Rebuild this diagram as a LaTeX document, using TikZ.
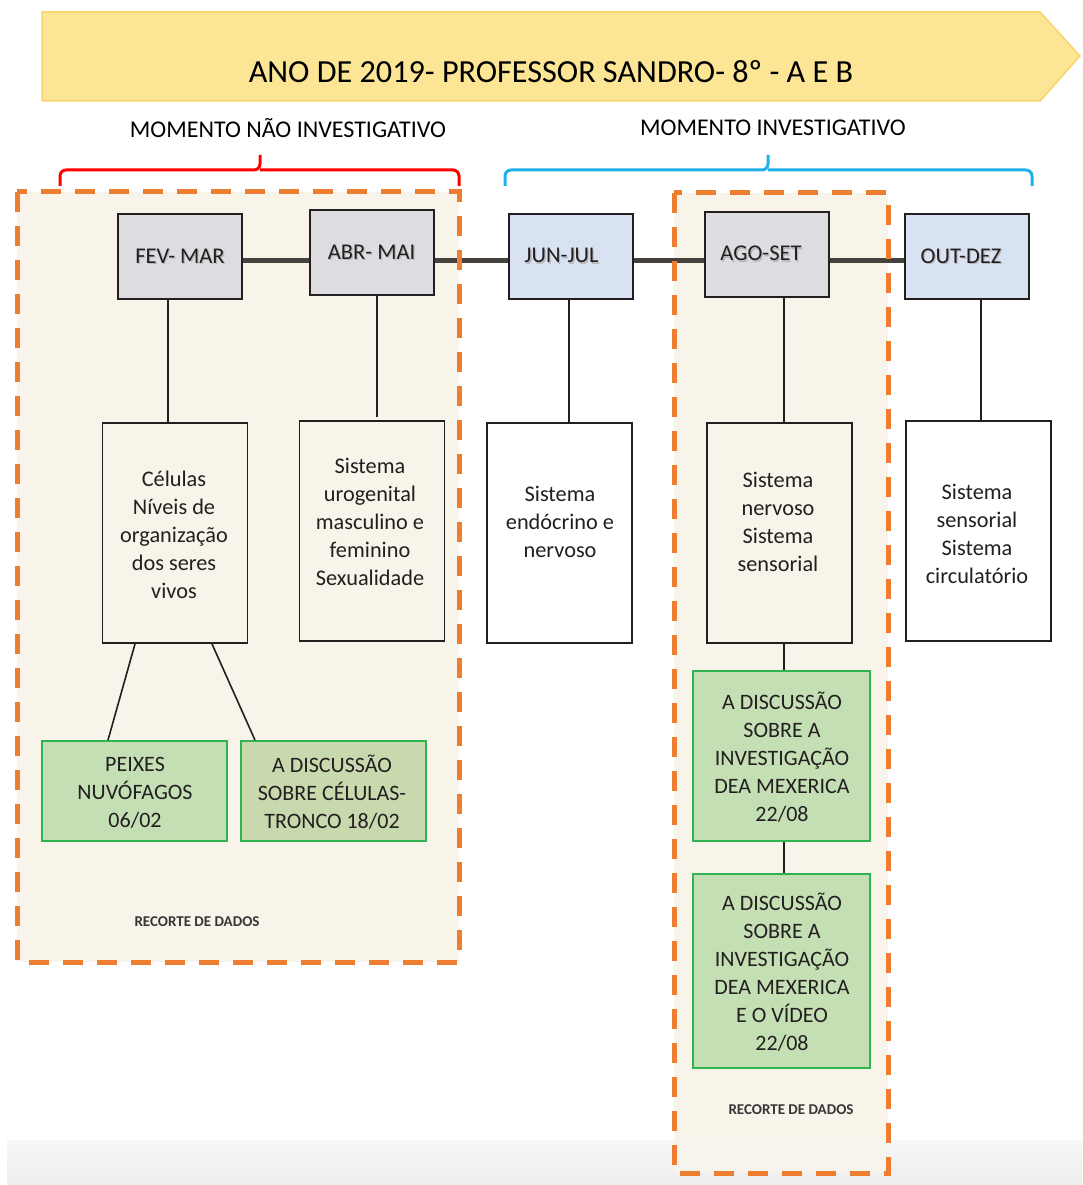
\documentclass[tikz,border=0pt]{standalone}
\usepackage{fontspec}
\setmainfont{Carlito}
\usetikzlibrary{calc,backgrounds}

\definecolor{titlefill}{HTML}{FCE595}
\definecolor{titleedge}{HTML}{F7D46B}
\definecolor{cream}{HTML}{F8F4EA}
\definecolor{dashorange}{HTML}{ED7D31}
\definecolor{monthgray}{HTML}{DCDCE1}
\definecolor{monthblue}{HTML}{D9E2F3}
\definecolor{greenfill}{HTML}{C5DFB4}
\definecolor{olivefill}{HTML}{C9D9AE}
\definecolor{greenedge}{HTML}{2DB34F}
\definecolor{ink}{HTML}{231F20}
\definecolor{timelinegray}{HTML}{45413F}
\definecolor{bracered}{HTML}{FF0000}
\definecolor{braceblue}{HTML}{1FB0EA}

\newcommand\mshadow[1]{\makebox[0pt][l]{\kern1.3pt\raisebox{-1.3pt}{\textcolor{black!28}{#1}}}#1}

\tikzset{
  monthbox/.style={draw=ink, line width=2pt, minimum width=124pt, minimum height=85pt,
    inner sep=0pt, font=\fontsize{22.5}{26}\selectfont, text=ink},
  contentbox/.style={draw=ink, line width=1.8pt, minimum width=145pt, minimum height=220pt, inner sep=0pt},
  boxtext/.style={align=center, font=\fontsize{22.3}{28}\selectfont, text=ink, inner sep=0pt},
  greentext/.style={align=center, font=\fontsize{22}{28}\selectfont, text=ink, inner sep=0pt},
  greenbox/.style={draw=greenedge, line width=1.8pt, fill=greenfill, inner sep=0pt},
  link/.style={draw=ink, line width=1.6pt},
  timeline/.style={draw=timelinegray, line width=5pt},
  datazone/.style={draw=dashorange, line width=5pt, dash pattern=on 20pt off 14pt},
  brace/.style={line width=3pt, rounded corners=6pt},
  period/.style={font=\fontsize{24}{30}\selectfont, inner sep=0pt},
  cutnote/.style={font=\bfseries\fontsize{15}{18}\selectfont, text=ink!90, inner sep=0pt}
}

\begin{document}
\begin{tikzpicture}[x=1pt, y=-1pt]
\useasboundingbox (0,0) rectangle (1082,1185);

% heading arrow
\filldraw[fill=titlefill, draw=titleedge, line width=1.5pt]
  (42,12) -- (1040,12) -- (1080,56) -- (1040,101) -- (42,101) -- cycle;
\node[font=\fontsize{32.2}{36}\selectfont, inner sep=0pt] (title) at (551,72)
  {ANO DE 2019- PROFESSOR SANDRO- 8º - A E B};

% the two phases
\node[period] (nonInv) at (288,128) {MOMENTO NÃO INVESTIGATIVO};
\node[period] (inv) at (773,128) {MOMENTO INVESTIGATIVO};
\draw[brace, bracered] (60,186) -- (60,170) -- (260,170) -- (260,155);
\draw[brace, bracered] (459,186) -- (459,170) -- (260,170);
\draw[brace, braceblue] (505,186) -- (505,170) -- (768,170) -- (768,155);
\draw[brace, braceblue] (1032,186) -- (1032,170) -- (768,170);

% periods of the year
\node[monthbox, fill=monthgray] (fev) at (180,256.5) {\mshadow{FEV- MAR}};
\node[monthbox, fill=monthgray] (abr) at (371.5,252.5) {\mshadow{ABR- MAI}};
\node[monthbox, fill=monthblue] (jun) at (570.5,256.5) {\hspace*{-18pt}\mshadow{JUN-JUL}};
\node[monthbox, fill=monthgray] (ago) at (767,254.5) {\hspace*{-12pt}\raisebox{2pt}{\mshadow{AGO-SET}}};
\node[monthbox, fill=monthblue] (oud) at (967,256.5) {\hspace*{-12pt}\mshadow{OUT-DEZ}};

% contents of each period
\node[contentbox, fill=cream] (c1) at (175,533) {};
\node[boxtext] (c1t) at (174,535) {Células\\Níveis de\\organização\\dos seres\\vivos};
\node[contentbox, fill=cream] (c2) at (372,531) {};
\node[boxtext] (c2t) at (370,522) {Sistema\\urogenital\\masculino e\\feminino\\Sexualidade};
\node[contentbox, fill=white] (c3) at (559.5,533) {};
\node[boxtext] (c3t) at (560,522) {Sistema\\endócrino e\\nervoso};
\node[contentbox, fill=cream] (c4) at (779.5,533) {};
\node[boxtext] (c4t) at (778,522) {Sistema\\nervoso\\Sistema\\sensorial};
\node[contentbox, fill=white] (c5) at (978.5,531) {};
\node[boxtext] (c5t) at (977,534) {Sistema\\sensorial\\Sistema\\circulatório};

% recorded classroom episodes
\node[greenbox, minimum width=185pt, minimum height=100pt] (g1) at (134.5,791) {};
\node[greentext] (g1t) at (135,793) {PEIXES\\NUVÓFAGOS\\06/02};
\node[greenbox, fill=olivefill, minimum width=185pt, minimum height=100pt] (g2) at (333.5,791) {};
\node[greentext] (g2t) at (332,792) {A DISCUSSÃO\\SOBRE CÉLULAS-\\TRONCO 18/02};
\node[greenbox, minimum width=177pt, minimum height=170pt] (g3) at (781.5,756) {};
\node[greentext] (g3t) at (782,757.5) {A DISCUSSÃO\\SOBRE A\\INVESTIGAÇÃO\\DEA MEXERICA\\22/08};
\node[greenbox, minimum width=177pt, minimum height=194pt] (g4) at (781.5,971) {};
\node[greentext] (g4t) at (782,972.5) {A DISCUSSÃO\\SOBRE A\\INVESTIGAÇÃO\\DEA MEXERICA\\E O VÍDEO\\22/08};

\node[cutnote] (cut1) at (197,922) {RECORTE DE DADOS};
\node[cutnote] (cut2) at (791,1110) {RECORTE DE DADOS};

% vertical connectors
\coordinate (fevdown) at (fev.south -| 168,0);
\coordinate (abrdown) at (abr.south -| 377,0);
\coordinate (agodown) at (ago.south -| 784,0);
\coordinate (ouddown) at (oud.south -| 981,0);
\draw[link] (fevdown) -- (fevdown |- c1.north);
\draw[link] (abrdown) -- ($(abrdown |- c2.north)+(0,-3)$);
\draw[link] (jun.south -| 569,0) -- (c3.north -| 569,0);
\draw[link] (agodown) -- (agodown |- c4.north);
\draw[link] (ouddown) -- (ouddown |- c5.north);
\draw[link] (c1.south -| 135,0) -- (g1.north -| 108,0);
\draw[link] (c1.south -| 212,0) -- (g2.north -| 255,0);
\draw[link] (c4.south -| 784,0) -- (g3.north -| 784,0);
\draw[link] (g3.south -| 784,0) -- (g4.north -| 784,0);

\begin{pgfonlayer}{background}
  \fill[white] (0,0) rectangle (1082,1185);
  % grey strip along the lower edge
  \fill[top color=black!3, bottom color=black!7] (7,1140) rectangle (1082,1185);
  \fill[cream] (17,192) rectangle (459,962);
  \fill[cream] (674,193) rectangle (888,1173);
  \fill[black!4, opacity=0.35] (674,1140) rectangle (888,1173);
  \draw[timeline] ($(fev.east)+(0,3.5)$) -- ($(oud.west)+(0,3.5)$);
\end{pgfonlayer}

% borders of the data-selection zones
\draw[datazone] (17,192) rectangle (459,962);
\draw[datazone] (674,193) rectangle (888,1173);
\end{tikzpicture}
\end{document}
